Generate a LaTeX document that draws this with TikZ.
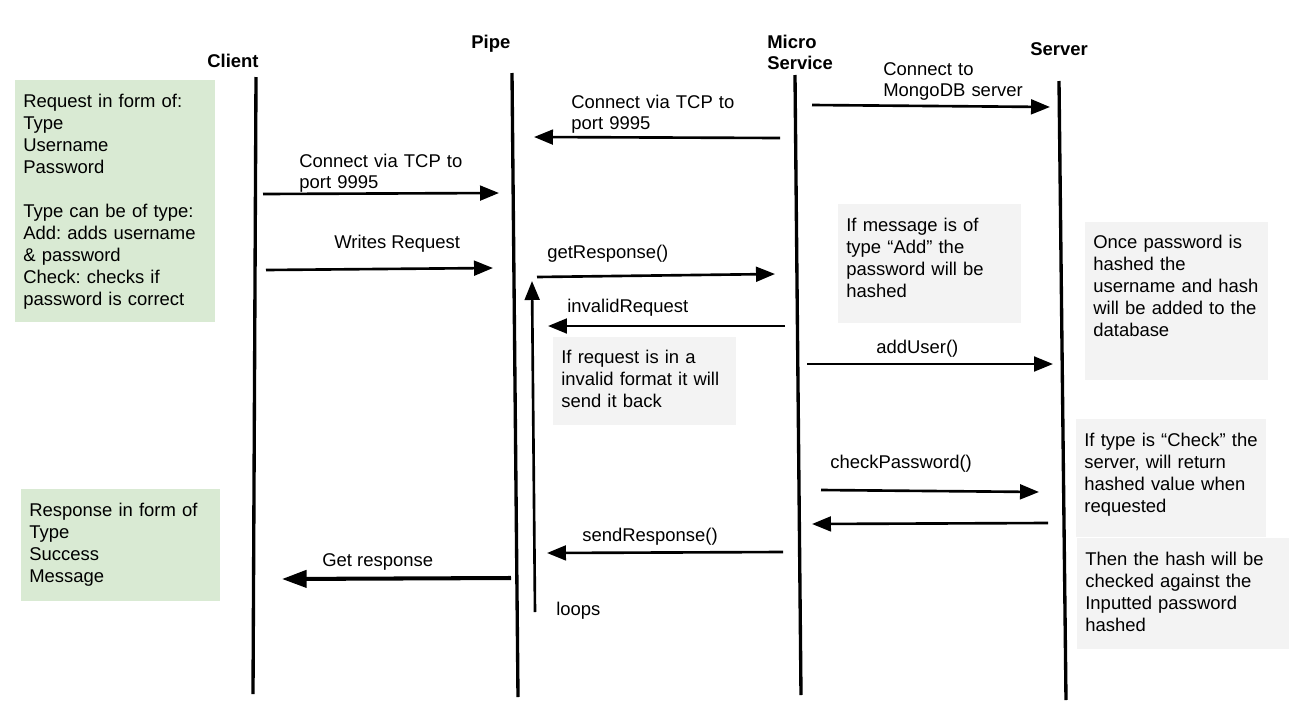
\documentclass[tikz,border=0pt]{standalone}
\usepackage{fontspec}
\setmainfont{Liberation Sans}
\usetikzlibrary{arrows.meta}
\definecolor{notegreen}{RGB}{217,234,211}
\definecolor{notegrey}{RGB}{243,243,243}
\newcommand\notefont{\fontsize{10.5}{12.5}\selectfont}
\frenchspacing

\begin{document}
\begin{tikzpicture}[x=0.02cm,y=-0.02cm,>={Triangle[length=10.8pt,width=8.4pt]},
	life/.style={line width=1.9pt},
	msg/.style={->,line width=1.5pt},
	bigmsg/.style={-{Triangle[length=14pt,width=9.7pt]},line width=2.3pt},
	head/.style={anchor=base west,inner sep=0pt,font=\bfseries\notefont},
	lbl/.style={anchor=base west,inner sep=0pt,font=\notefont,align=left},
	note/.style={anchor=north west,inner xsep=0.16cm,inner ysep=0pt,font=\notefont,align=left},
	greennote/.style={note,fill=notegreen},
	greynote/.style={note,fill=notegrey}]
				\useasboundingbox (0,0) rectangle (1289,724);
				
				% heads and lifelines
				\node[head] (client) at (207,67) {Client};
				\node[head] (pipe) at (471,48) {Pipe};
				\node[head,text width=1.4cm] (micro) at (767,48) {Micro\\Service};
				\node[head] (server) at (1030,55) {Server};
				\foreach \n/\xa/\ya/\xb/\yb in
					{client/256/77/253/694,pipe/512/73/518/697,
					 micro/795/75/801/695,server/1059/81/1066/700}
					{
					\coordinate (\n top) at (\xa,\ya);
					\coordinate (\n bot) at (\xb,\yb);
					\draw[life] (\n top) -- (\n bot);
					}
				
				% notes
				\node[greennote,text width=3.68cm,text height=0.54cm,text depth=4.30cm] (request) at (15,80)
					{Request in form of:\\Type\\Username\\Password\\[12.5pt]Type can be of type:\\Add: adds username\\\& password\\Check: checks if\\password is correct};
				\node[greennote,text width=3.66cm,text height=0.54cm,text depth=1.70cm] (response) at (21,489)
					{Response in form of\\Type\\Success\\Message};
				\node[greynote,text width=3.34cm,text height=0.54cm,text depth=1.84cm] (addnote) at (838,204)
					{If message is of\\type “Add” the\\password will be\\hashed};
				\node[greynote,text width=3.34cm,text height=0.52cm,text depth=2.64cm] (hashnote) at (1085,222)
					{Once password is\\hashed the\\username and hash\\will be added to the\\database};
				\node[greynote,text width=3.34cm,text height=0.52cm,text depth=1.24cm] (invnote) at (553,337)
					{If request is in a\\invalid format it will\\send it back};
				\node[greynote,text width=3.48cm,text height=0.54cm,text depth=1.82cm] (checknote) at (1076,419)
					{If type is “Check” the\\server, will return\\hashed value when\\requested};
				\node[greynote,text width=3.92cm,text height=0.54cm,text depth=1.68cm] (thennote) at (1077,538)
					{Then the hash will be\\checked against the\\Inputted password\\hashed};
				
				% messages
				\foreach \n/\xa/\ya/\xb/\yb in
					{tcpms/780/138/534/137,mongo/812/105/1050/107,
					 tcpcl/263/194/499/193,write/266/270/493/268,
					 getresp/537/277/775/274,invalid/785/326/548/326,
					 loop/535/612/532/281,adduser/807/364/1053/364,
					 check/821/490/1039/492,hashback/1048/523/812/524,
					 sendresp/783/552/547/553}
					{
					\coordinate (\n s) at (\xa,\ya);
					\coordinate (\n e) at (\xb,\yb);
					\draw[msg] (\n s) -- (\n e);
					}
				\coordinate (getback s) at (511,578);
				\coordinate (getback e) at (282,579);
				\draw[bigmsg] (getback s) -- (getback e);
				
				% message labels
				\node[lbl,text width=4cm] (ltcpms) at (571,108) {Connect via TCP to\\port 9995};
				\node[lbl,text width=4cm] (lmongo) at (883,75) {Connect to\\MongoDB server};
				\node[lbl,text width=4cm] (ltcpcl) at (299,167) {Connect via TCP to\\port 9995};
				\node[lbl] (lwrite) at (334,248) {Writes Request};
				\node[lbl] (lgetresp) at (547,258) {getResponse()};
				\node[lbl] (linvalid) at (567,312) {invalidRequest};
				\node[lbl] (lloop) at (556,615) {loops};
				\node[lbl] (ladduser) at (876,353) {addUser()};
				\node[lbl] (lcheck) at (830,468) {checkPassword()};
				\node[lbl] (lsendresp) at (582,541) {sendResponse()};
				\node[lbl] (lgetback) at (322,566) {Get response};
	\end{tikzpicture}
\end{document}
